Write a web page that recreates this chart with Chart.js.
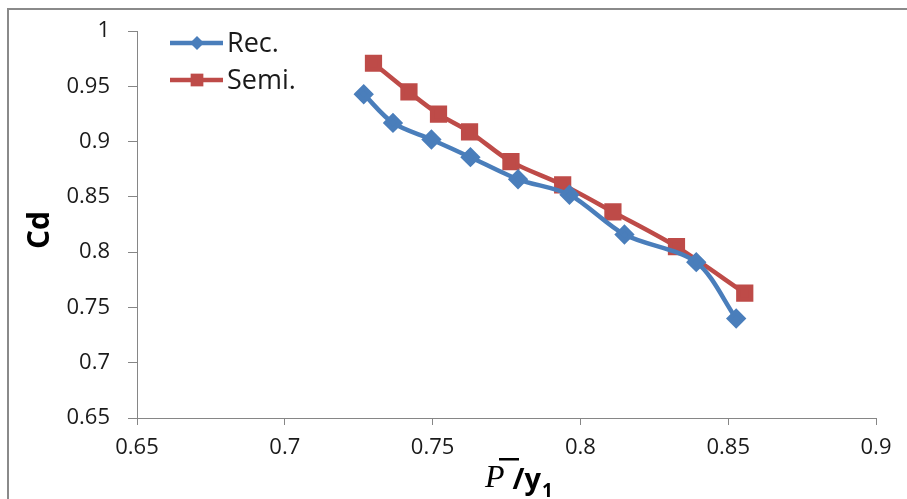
<!DOCTYPE html>
<html>
<head>
<meta charset="utf-8">
<script src="https://cdn.jsdelivr.net/npm/chart.js@4.4.1/dist/chart.umd.min.js"></script>
<style>
  html, body { margin: 0; padding: 0; background: #fff; overflow: hidden; }
  #wrap { position: relative; width: 907px; height: 499px; }
</style>
</head>
<body>
<div id="wrap"><canvas id="cdChart" width="907" height="499"></canvas></div>
<script>
// ===== Data =====
const recX  = [0.7267, 0.7366, 0.7496, 0.7628, 0.7789, 0.7963, 0.8149, 0.8392, 0.8527];
const recY  = [0.943, 0.917, 0.902, 0.886, 0.866, 0.852, 0.816, 0.791, 0.740];
const semiX = [0.730, 0.742, 0.752, 0.7625, 0.7765, 0.794, 0.811, 0.8325, 0.8556];
const semiY = [0.971, 0.945, 0.925, 0.909, 0.882, 0.861, 0.8365, 0.805, 0.763];
const seriesNames = ['Rec.', 'Semi.'];
const yTitle = 'Cd';

const toPoints = (xs, ys) => xs.map((x, i) => ({ x: x, y: ys[i] }));
const axisGray = '#868686';
const textColor = '#1a1a1a';

// ===== Frame around the chart =====
const framePlugin = {
    id: 'frame',
    beforeDraw(chart) {
        const ctx = chart.ctx;
        ctx.save();
        ctx.strokeStyle = '#8a8a8a';
        ctx.lineWidth = 2;
        ctx.strokeRect(8, 9, 1200, 1200);
        ctx.restore();
    }
};

// ===== Legend inside the plot, line + marker like Excel =====
const insideLegend = {
    id: 'insideLegend',
    afterDraw(chart) {
        const ctx = chart.ctx;
        const rows = [43, 80];
        chart.data.datasets.forEach((ds, i) => {
            const y = rows[i];
            ctx.save();
            ctx.strokeStyle = ds.borderColor;
            ctx.lineWidth = ds.borderWidth;
            ctx.beginPath();
            ctx.moveTo(170, y);
            ctx.lineTo(223, y);
            ctx.stroke();
            ctx.fillStyle = ds.pointBackgroundColor;
            ctx.strokeStyle = ds.borderColor;
            ctx.lineWidth = 1;
            Chart.helpers.drawPoint(ctx, {
                pointStyle: ds.pointStyle,
                radius: ds.pointRadius,
                rotation: 0
            }, 197, y);
            ctx.fillStyle = textColor;
            ctx.font = '27px "Open Sans"';
            ctx.textBaseline = 'middle';
            ctx.fillText(ds.label, 227, y + 1);
            ctx.restore();
        });
    }
};

// ===== Axis titles (x title mixes italic P with bar, bold /y and subscript 1) =====
const axisTitles = {
    id: 'axisTitles',
    afterDraw(chart) {
        const ctx = chart.ctx;
        ctx.save();
        ctx.fillStyle = '#000';
        // y title
        ctx.translate(40, 230);
        ctx.rotate(-Math.PI / 2);
        ctx.font = 'bold 30px "Open Sans"';
        ctx.textAlign = 'center';
        ctx.textBaseline = 'middle';
        ctx.fillText(yTitle, 0, 0);
        ctx.restore();

        ctx.save();
        ctx.fillStyle = '#000';
        ctx.textBaseline = 'alphabetic';
        let x = 485;
        const base = 487;
        ctx.font = 'italic 32px "Liberation Serif"';
        ctx.fillText('P', x, base);
        const pw = ctx.measureText('P').width;
        // overline
        ctx.fillRect(x + 14, 458, 20, 2.5);
        x += pw + 8;
        ctx.font = 'bold 29px "Open Sans"';
        ctx.fillText('/y', x, base + 2);
        x += ctx.measureText('/y').width + 1;
        ctx.font = 'bold 19px "Open Sans"';
        ctx.fillText('1', x, base + 10);
        ctx.restore();
    }
};

const ctx = document.getElementById('cdChart').getContext('2d');
const cdChart = new Chart(ctx, {
    type: 'line',
    data: {
        datasets: [
            {
                label: seriesNames[0],
                data: toPoints(recX, recY),
                borderColor: '#4A7EBB',
                backgroundColor: '#4A7EBB',
                pointBackgroundColor: '#4A7EBB',
                pointBorderColor: '#4A7EBB',
                pointStyle: 'rectRot',
                pointRadius: 7,
                pointHoverRadius: 7,
                borderWidth: 4.5,
                tension: 0.3,
                fill: false
            },
            {
                label: seriesNames[1],
                data: toPoints(semiX, semiY),
                borderColor: '#BE4B48',
                backgroundColor: '#BE4B48',
                pointBackgroundColor: '#BE4B48',
                pointBorderColor: '#BE4B48',
                pointStyle: 'rect',
                pointRadius: 9,
                pointHoverRadius: 9,
                borderWidth: 4.5,
                tension: 0.3,
                fill: false
            }
        ]
    },
    options: {
        responsive: false,
        animation: false,
        layout: { padding: { left: 0, right: 31, top: 28, bottom: 0 } },
        plugins: {
            legend: { display: false },
            tooltip: { enabled: false }
        },
        scales: {
            x: {
                type: 'linear',
                min: 0.65,
                max: 0.9,
                afterFit: s => { s.height = 81; },
                ticks: {
                    stepSize: 0.05,
                    padding: 10,
                    color: textColor,
                    font: { family: 'Open Sans', size: 22 },
                    maxRotation: 0,
                    callback: v => String(parseFloat(v.toFixed(2)))
                },
                grid: {
                    drawOnChartArea: false,
                    color: axisGray,
                    tickLength: 7
                },
                border: { color: axisGray, width: 1 }
            },
            y: {
                type: 'linear',
                min: 0.65,
                max: 1,
                afterFit: s => { s.width = 137; },
                ticks: {
                    stepSize: 0.05,
                    padding: 18,
                    color: textColor,
                    font: { family: 'Open Sans', size: 22 },
                    callback: v => String(parseFloat(v.toFixed(2)))
                },
                grid: {
                    drawOnChartArea: false,
                    color: axisGray,
                    tickLength: 9
                },
                border: { color: axisGray, width: 1 }
            }
        }
    },
    plugins: [framePlugin, insideLegend, axisTitles]
});
</script>
</body>
</html>
